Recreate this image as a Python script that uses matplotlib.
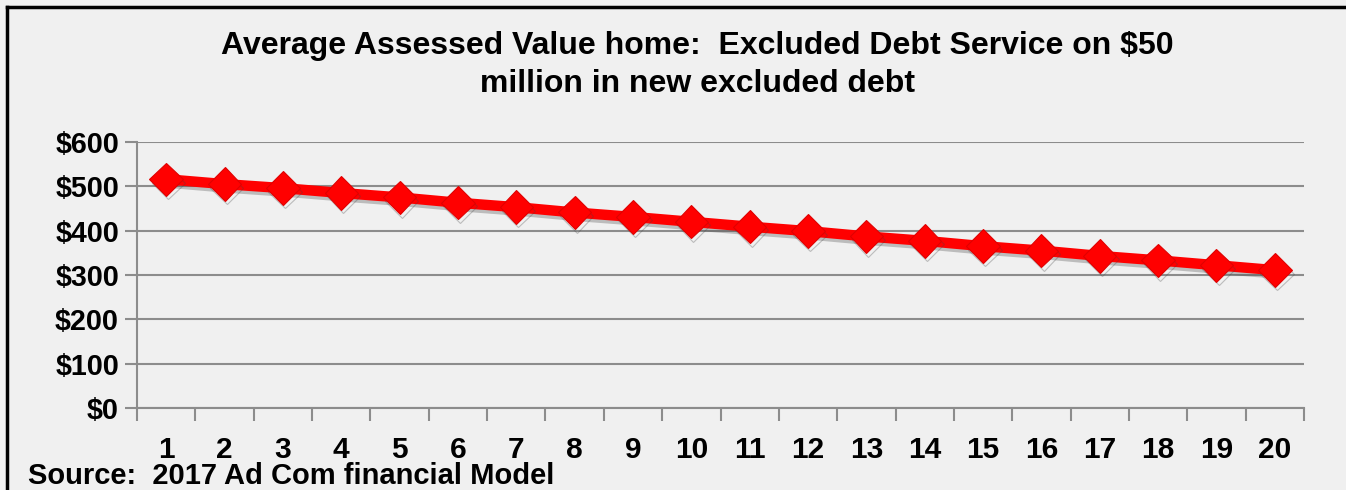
import matplotlib
matplotlib.use("Agg")
import matplotlib.pyplot as plt
import matplotlib.patheffects as pe
from matplotlib.lines import Line2D

plt.rcParams['font.family'] = ['Liberation Sans', 'DejaVu Sans']

years = list(range(1, 21))
debt_service = [516, 505, 496, 485, 475, 463, 453, 441, 431, 420,
                409, 399, 387, 377, 365, 355, 343, 333, 322, 311]
y_ticks = [0, 100, 200, 300, 400, 500, 600]
y_labels = ['$0', '$100', '$200', '$300', '$400', '$500', '$600']
title_lines = ["Average Assessed Value home:  Excluded Debt Service on $50",
               "million in new excluded debt"]
source = "Source:  2017 Ad Com financial Model"

W, H = 1346, 490
bg = '#f0f0f0'
fig = plt.figure(figsize=(W / 100, H / 100), dpi=100, facecolor=bg)
ax = fig.add_axes([137 / W, 1 - 408 / H, (1304 - 137) / W, (408 - 142) / H])
ax.set_facecolor(bg)

shadow = [pe.SimpleLineShadow(offset=(1.5, -2.5), shadow_color='#444444', alpha=0.3),
          pe.Normal()]
ax.plot(years, debt_service, color='#ff0000', lw=7.5, marker='D', markersize=17,
        markerfacecolor='#ff0000', markeredgecolor='#e00000', markeredgewidth=0.8,
        solid_joinstyle='round', zorder=3, path_effects=shadow)

ax.set_xlim(0.5, 20.5)
ax.set_ylim(0, 600)
ax.set_yticks(y_ticks)
ax.set_yticklabels(y_labels)
ax.yaxis.grid(True, color='#8c8c8c', lw=1.5)
ax.set_axisbelow(True)

# category labels centred, tick marks on the category boundaries
ax.set_xticks(years)
ax.set_xticklabels([str(y) for y in years])
ax.set_xticks([x + 0.5 for x in range(0, 21)], minor=True)
ax.tick_params(axis='x', which='major', length=0, pad=20.5, labelsize=21.5)
ax.tick_params(axis='x', which='minor', length=9, width=1.5, color='#8c8c8c', direction='out')
ax.tick_params(axis='y', length=9, width=1.5, color='#8c8c8c', pad=4, labelsize=20.7)
for lab in ax.get_xticklabels() + ax.get_yticklabels():
    lab.set_fontweight('bold')

for side in ('top', 'right'):
    ax.spines[side].set_visible(False)
for side in ('left', 'bottom'):
    ax.spines[side].set_color('#8c8c8c')
    ax.spines[side].set_linewidth(1.5)

for line, ypix in zip(title_lines, (46, 84)):
    fig.text(697 / W, 1 - ypix / H, line, ha='center', va='center', fontsize=23,
             fontweight='bold')
fig.text(28 / W, 1 - 484 / H, source, ha='left', va='baseline', fontsize=21,
         fontweight='bold')

# outer frame (top and left edges)
fig.add_artist(Line2D([7 / W, 1.0], [1 - 7 / H, 1 - 7 / H], color='black', lw=2.5,
                      transform=fig.transFigure))
fig.add_artist(Line2D([7 / W, 7 / W], [0.0, 1 - 7 / H], color='black', lw=2.5,
                      transform=fig.transFigure))

fig.savefig('out.png', dpi=100, facecolor=bg)
